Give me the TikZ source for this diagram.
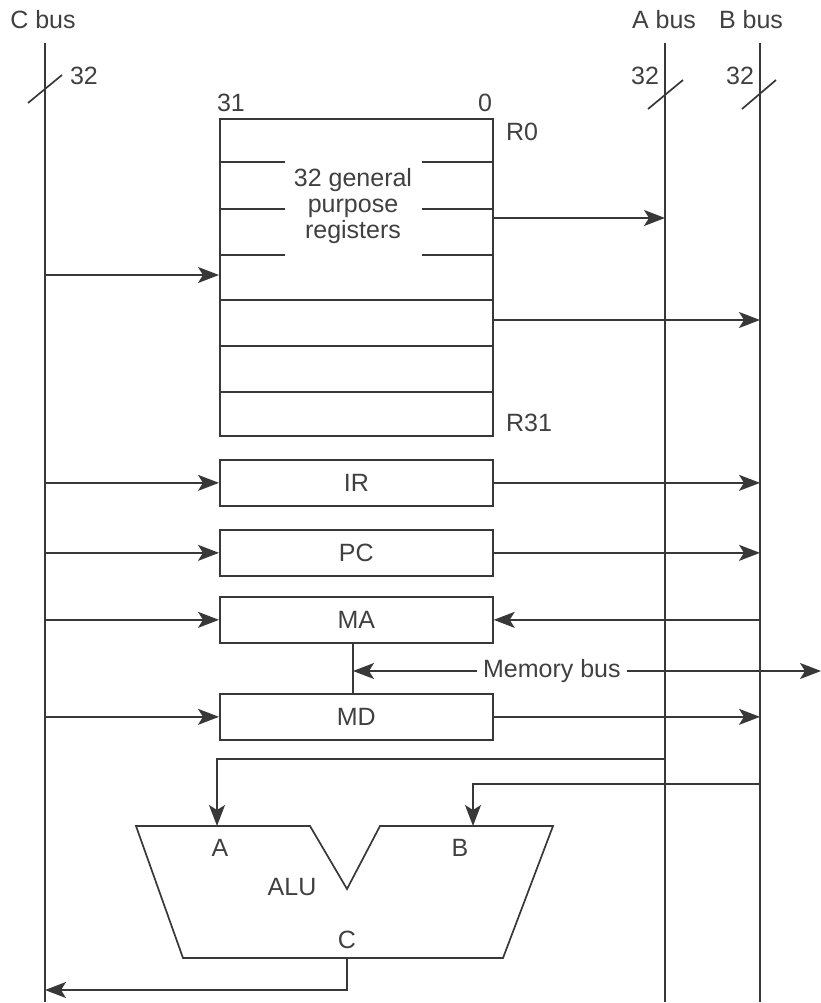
\documentclass[tikz,border=0pt]{standalone}
\usepackage{fontspec}
\setmainfont{Liberation Sans}
\usetikzlibrary{arrows.meta}
\begin{document}
\begin{tikzpicture}[x=1pt,y=-1pt,
  ln/.style={line width=1.7pt, draw=black!78},
  tip/.tip={Stealth[length=21pt,width=16pt,inset=5pt]},
  arr/.style={ln, -tip},
  dblarr/.style={ln, tip-tip},
  lbl/.style={font=\fontsize{25}{27}\selectfont, text=black!75, inner sep=0pt},
  regbox/.style={ln, rectangle, minimum width=273pt, minimum height=46pt, inner sep=0pt, anchor=north west, font=\fontsize{25}{27}\selectfont, text=black!75},
]
\useasboundingbox (0,0) rectangle (821,1003);

% buses
\coordinate (Ctop) at (45,43);  \coordinate (Cbot) at (45,1002);
\coordinate (Atop) at (665,43); \coordinate (Abot) at (665,1002);
\coordinate (Btop) at (760,43); \coordinate (Bbot) at (760,1002);
\draw[ln] (Ctop) -- (Cbot);
\draw[ln] (Atop) -- (Abot);
\draw[ln] (Btop) -- (Bbot);

\node[lbl] (Clbl) at (43,20) {C bus};
\node[lbl] (Albl) at (664,20) {A bus};
\node[lbl] (Blbl) at (751,20) {B bus};

% width slashes
\draw[ln] (28,103) -- (62,75);
\node[lbl] (C32) at (84,76) {32};
\draw[ln] (648,109) -- (683,80);
\node[lbl] (A32) at (645,76) {32};
\draw[ln] (742,109) -- (776,80);
\node[lbl] (B32) at (740,76) {32};

% register file
\node[ln, draw, rectangle, minimum width=273pt, minimum height=317pt, inner sep=0pt, anchor=north west] (rf) at (219,118) {};
\foreach \yy in {162,209,255} {
  \draw[ln] (219,\yy) -- (285,\yy);
  \draw[ln] (422,\yy) -- (492,\yy);
}
\foreach \yy in {300,346,392} {
  \draw[ln] (219,\yy) -- (492,\yy);
}
\node[lbl, align=center] (rftext) at (353,206) {32 general\\[-1pt]purpose\\[-1pt]registers};
\node[lbl] (b31) at (231,103) {31};
\node[lbl] (b0) at (485,103) {0};
\node[lbl] (r0) at (522,132) {R0};
\node[lbl] (r31) at (529,423) {R31};

\coordinate (rfC) at (219,275);
\coordinate (rfA) at (492,218);
\coordinate (rfB) at (492,320);
\draw[arr] (Ctop |- rfC) -- (rfC);
\draw[arr] (rfA) -- (Atop |- rfA);
\draw[arr] (rfB) -- (Btop |- rfB);

% special registers
\node[regbox] (IR) at (219,459) {IR};
\node[regbox] (PC) at (219,529) {PC};
\node[regbox] (MA) at (219,596) {MA};
\node[regbox] (MD) at (219,693) {MD};

\draw[arr] (Ctop |- IR.west) -- (IR.west);
\draw[arr] (IR.east) -- (Btop |- IR.east);
\draw[arr] (Ctop |- PC.west) -- (PC.west);
\draw[arr] (PC.east) -- (Btop |- PC.east);
\draw[arr] (Ctop |- MA.west) -- (MA.west);
\draw[arr] (Btop |- MA.east) -- (MA.east);
\draw[arr] (Ctop |- MD.west) -- (MD.west);
\draw[arr] (MD.east) -- (Btop |- MD.east);

% memory bus
\coordinate (mbj) at (353,671);
\coordinate (mbend) at (821,671);
\draw[ln] (MA.south -| mbj) -- (MD.north -| mbj);
\draw[dblarr] (mbj) -- (mbend) node[lbl, pos=0.425, fill=white, inner xsep=6pt, inner ysep=2pt] (mblbl) {Memory bus};

% ALU
\coordinate (aluTL) at (136,826);
\coordinate (aluV1) at (310,826);
\coordinate (aluV)  at (347,889);
\coordinate (aluV2) at (380,826);
\coordinate (aluTR) at (553,826);
\coordinate (aluBR) at (503,958);
\coordinate (aluBL) at (183,958);
\draw[ln, line join=miter] (aluTL) -- (aluV1) -- (aluV) -- (aluV2) -- (aluTR) -- (aluBR) -- (aluBL) -- cycle;
\node[lbl] (aluAl) at (220,848) {A};
\node[lbl] (aluBl) at (460,848) {B};
\node[lbl] (aluName) at (292,887) {ALU};
\node[lbl] (aluCl) at (347,940) {C};

\coordinate (aluA) at (217,826);
\coordinate (aluB) at (473,826);
\coordinate (aluC) at (347,958);
\coordinate (Aturn) at (665,759);
\coordinate (Bturn) at (760,784);
\coordinate (Cout) at (347,990);
\draw[arr] (Aturn) -| (aluA);
\draw[arr] (Bturn) -| (aluB);
\draw[arr] (aluC) |- (Ctop |- Cout);
\end{tikzpicture}
\end{document}
